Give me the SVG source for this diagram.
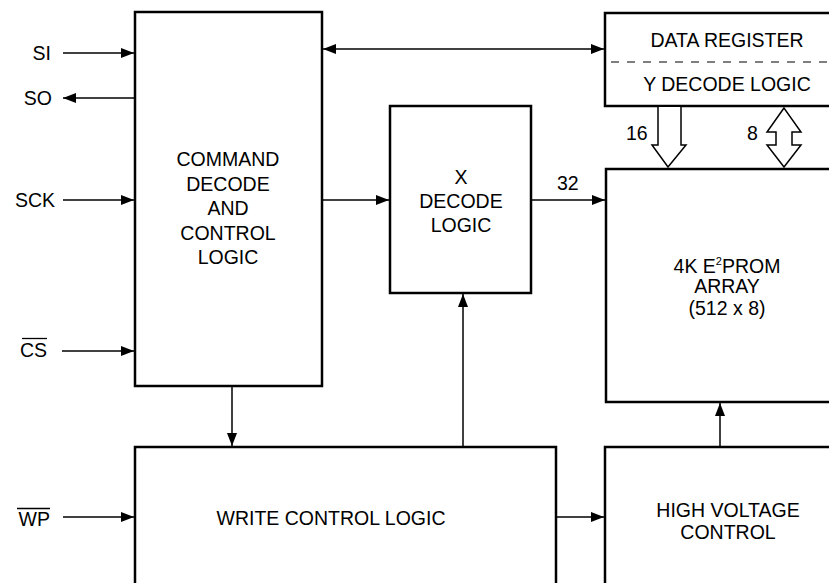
<svg xmlns="http://www.w3.org/2000/svg" width="829" height="583" viewBox="0 0 829 583">
<style>
.box{fill:#fff;stroke:#000;stroke-width:2.5}
.ln{fill:none;stroke:#000;stroke-width:1.5}
.hl{fill:#fff;stroke:#000;stroke-width:1.5;stroke-linejoin:miter}
text{font-family:"Liberation Sans",Arial,sans-serif;font-size:19.5px;fill:#000}
.c{text-anchor:middle}
.e{text-anchor:end}
</style>
<defs>
<marker id="ah" markerUnits="userSpaceOnUse" markerWidth="14" markerHeight="10" refX="13" refY="5" orient="auto-start-reverse">
<path d="M0,0 L13,5 L0,10 Z" fill="#000"/>
</marker>
</defs>
<rect width="829" height="583" fill="#fff"/>
<g id="command">
<rect class="box" x="135" y="12" width="187" height="374"/>
<text class="c" x="228" y="166">COMMAND</text>
<text class="c" x="228" y="190.5">DECODE</text>
<text class="c" x="228" y="215">AND</text>
<text class="c" x="228" y="239.5">CONTROL</text>
<text class="c" x="228" y="264">LOGIC</text>
</g>
<g id="dataregister">
<rect class="box" x="605" y="13" width="240" height="93"/>
<line x1="611" y1="62" x2="829" y2="62" stroke="#000" stroke-width="1.2" stroke-dasharray="8,8"/>
<text class="c" x="727" y="47">DATA REGISTER</text>
<text class="c" x="727" y="91">Y DECODE LOGIC</text>
</g>
<g id="xdecode">
<rect class="box" x="390" y="106" width="141" height="187"/>
<text class="c" x="461" y="184">X</text>
<text class="c" x="461" y="208">DECODE</text>
<text class="c" x="461" y="232">LOGIC</text>
</g>
<g id="array">
<rect class="box" x="606" y="169" width="240" height="233"/>
<text class="c" x="727" y="273">4K E<tspan font-size="11" dy="-8">2</tspan><tspan dy="8">PROM</tspan></text>
<text class="c" x="727" y="293">ARRAY</text>
<text class="c" x="727" y="315">(512 x 8)</text>
</g>
<g id="writecontrol">
<rect class="box" x="135" y="447" width="421" height="150"/>
<text class="c" x="331" y="525">WRITE CONTROL LOGIC</text>
</g>
<g id="highvoltage">
<rect class="box" x="605" y="447" width="240" height="150"/>
<text class="c" x="728" y="517">HIGH VOLTAGE</text>
<text class="c" x="728" y="539">CONTROL</text>
</g>
<g id="labels">
<text class="e" x="51" y="60">SI</text>
<text class="e" x="52" y="105">SO</text>
<text class="e" x="55" y="207">SCK</text>
<text class="e" x="47" y="357">CS</text>
<line x1="22" y1="338.5" x2="47" y2="338.5" stroke="#000" stroke-width="1.3"/>
<text class="e" x="50" y="526">WP</text>
<line x1="17" y1="508.5" x2="50" y2="508.5" stroke="#000" stroke-width="1.3"/>
<text x="557" y="190">32</text>
<text x="626" y="140">16</text>
<text x="747" y="140">8</text>
</g>
<g id="connectors">
<line class="ln" x1="63" y1="53" x2="134" y2="53" marker-end="url(#ah)"/>
<line class="ln" x1="134" y1="98" x2="63" y2="98" marker-end="url(#ah)"/>
<line class="ln" x1="63" y1="200" x2="134" y2="200" marker-end="url(#ah)"/>
<line class="ln" x1="62" y1="351" x2="134" y2="351" marker-end="url(#ah)"/>
<line class="ln" x1="63" y1="517" x2="134" y2="517" marker-end="url(#ah)"/>
<line class="ln" x1="323" y1="49" x2="604" y2="49" marker-start="url(#ah)" marker-end="url(#ah)"/>
<line class="ln" x1="323" y1="200" x2="389" y2="200" marker-end="url(#ah)"/>
<line class="ln" x1="532" y1="200" x2="605" y2="200" marker-end="url(#ah)"/>
<line class="ln" x1="232" y1="387" x2="232" y2="446" marker-end="url(#ah)"/>
<line class="ln" x1="463" y1="446" x2="463" y2="294" marker-end="url(#ah)"/>
<line class="ln" x1="557" y1="517" x2="604" y2="517" marker-end="url(#ah)"/>
<line class="ln" x1="720" y1="446" x2="720" y2="403" marker-end="url(#ah)"/>
<path class="hl" d="M658,107 L658,145 L652,145 L668,167 L686,145 L681,145 L681,107"/>
<path class="hl" d="M784,108 L767,132 L776,132 L776,145 L767,145 L784,167 L801,145 L792,145 L792,132 L801,132 Z"/>
</g>
</svg>
